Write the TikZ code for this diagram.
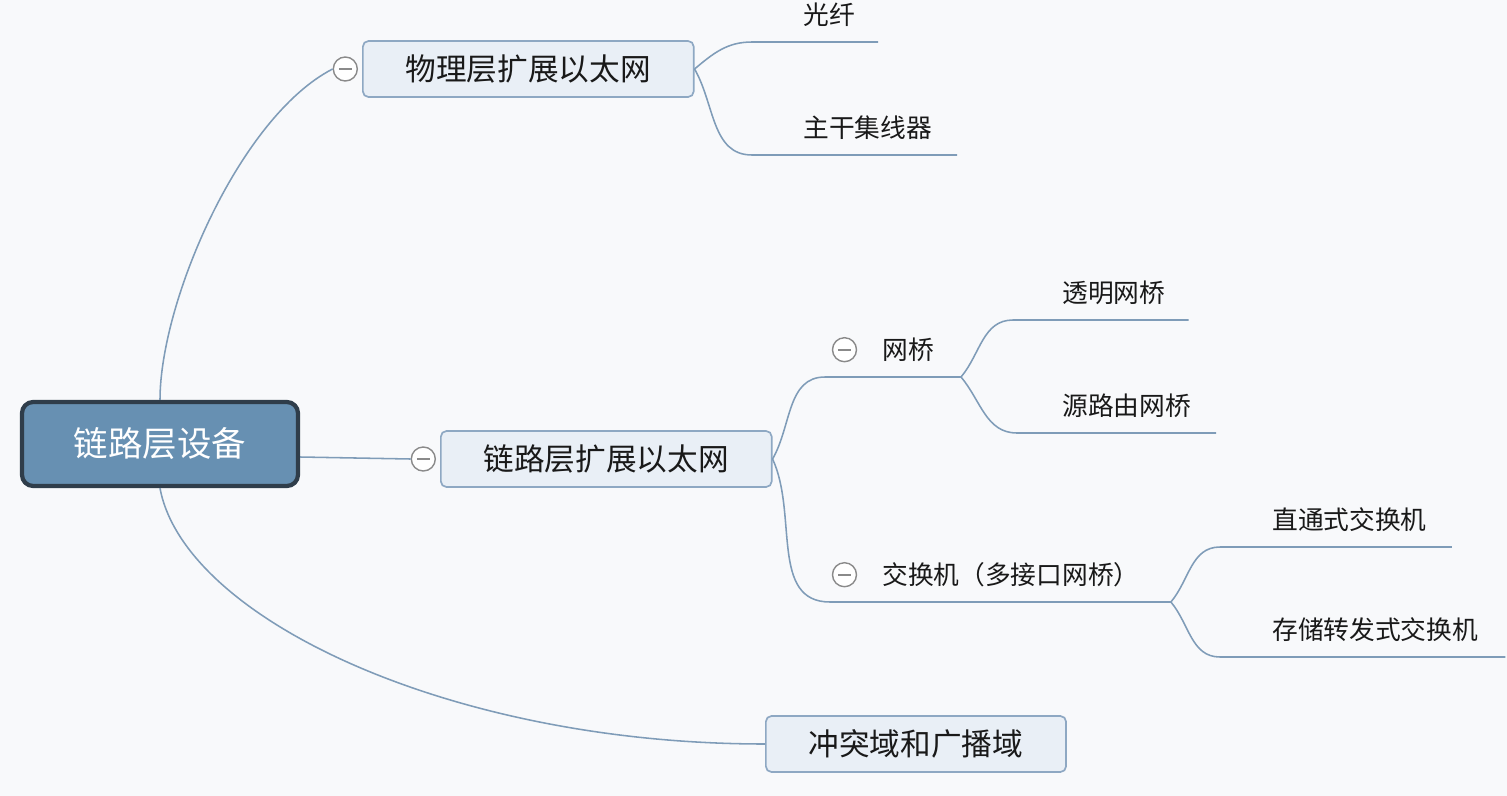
\documentclass[tikz,border=0pt]{standalone}
\usepackage{fontspec}
\setmainfont{Noto Sans CJK SC}
\usepackage{tikz}
\usetikzlibrary{positioning, calc}
\definecolor{linecol}{HTML}{7F9CB8}
\definecolor{boxfill}{HTML}{E9EFF6}
\definecolor{boxline}{HTML}{8EA8C3}
\definecolor{rootfill}{HTML}{6790B2}
\definecolor{rootline}{HTML}{2F3D4A}
\definecolor{bgcol}{HTML}{F8F9FB}
\definecolor{knob}{HTML}{8A8A8A}
\tikzset{
  rootbox/.style={
    rectangle, rounded corners=8pt,
    draw=rootline, line width=3pt,
    fill=rootfill, text=white,
    minimum width=6.9cm, minimum height=2.1cm,
    font=\fontsize{24.5pt}{28pt}\selectfont
  },
  topic/.style={
    rectangle, rounded corners=4pt,
    draw=boxline, line width=1.2pt,
    fill=boxfill, text=black!90,
    inner xsep=1.07cm, minimum height=1.4cm,
    font=\fontsize{21.8pt}{26pt}\selectfont,
    anchor=west
  },
  leaf/.style={
    inner xsep=0pt, minimum height=1.35cm,
    anchor=south west, text=black!90,
    font=\fontsize{18.3pt}{22pt}\selectfont
  },
  collapse/.style={
    circle, draw=knob, line width=1pt, fill=white,
    minimum size=0.6cm, inner sep=0pt,
    path picture={\draw[knob, line width=1.5pt]
      ([xshift=-0.16cm]path picture bounding box.center) --
      ([xshift=0.16cm]path picture bounding box.center);}
  },
  link/.style={
    draw=linecol, line width=1.1pt
  }
}
\begin{document}
\begin{tikzpicture}[x=0.025cm, y=0.025cm]

\useasboundingbox (0,0) rectangle (1507,-796);
\fill[bgcol] (0,0) rectangle (1507,-796);

%------------------------------------------------------
% NODES
%------------------------------------------------------

% central topic
\node[rootbox] (root) at (160,-444) {链路层设备};

% main topics
\node[topic] (phy) at (362,-69) {物理层扩展以太网};
\node[collapse, left=0.1cm of phy] (phyc) {};
\node[topic] (dll) at (440,-459) {链路层扩展以太网};
\node[collapse, left=0.1cm of dll] (dllc) {};
\node[topic] (dom) at (765,-744) {冲突域和广播域};

% subtopics of phy
\node[leaf] (fiber) at (803,-42) {光纤};
\node[leaf] (hub) at (803,-155) {主干集线器};

% subtopics of dll
\node[leaf] (bridge) at (882,-377) {网桥};
\node[collapse, left=0.62cm of bridge] (bridgec) {};
\node[leaf] (switch) at (882,-602) {交换机（多接口网桥）};
\node[collapse, left=0.62cm of switch] (switchc) {};

% leaves
\node[leaf] (tbridge) at (1062,-320) {透明网桥};
\node[leaf] (srbridge) at (1062,-433) {源路由网桥};
\node[leaf] (ctswitch) at (1272,-547) {直通式交换机};
\node[leaf] (sfswitch) at (1272,-657) {存储转发式交换机};

%------------------------------------------------------
% EDGES
%------------------------------------------------------

\draw[link] (root.north) .. controls +(0,98) and +(-93,-48) .. (phyc.west);
\draw[link] ($(root.east)+(0,-13)$) -- (dllc.west);
\draw[link] (root.south) .. controls +(24,-130) and +(-315,0) .. (dom.west);

\draw[link] (phy.east) to[out=40,in=180] ($(fiber.south west)+(-51,0)$) -- ($(fiber.south east)+(23,0)$);
\draw[link] (phy.east) to[out=-60,in=180] ($(hub.south west)+(-51,0)$) -- ($(hub.south east)+(25,0)$);

\draw[link] (dll.east) to[out=60,in=180] ($(bridge.south west)+(-57,0)$) -- ($(bridge.south east)+(27,0)$) coordinate (bridgeend);
\draw[link] (dll.east) to[out=-65,in=180] ($(switch.south west)+(-52,0)$) -- ($(switch.south east)+(31,0)$) coordinate (switchend);

\draw[link] (bridgeend) to[out=50,in=180] ($(tbridge.south west)+(-49,0)$) -- ($(tbridge.south east)+(23,0)$);
\draw[link] (bridgeend) to[out=-50,in=180] ($(srbridge.south west)+(-45,0)$) -- ($(srbridge.south east)+(25,0)$);
\draw[link] (switchend) to[out=50,in=180] ($(ctswitch.south west)+(-52,0)$) -- ($(ctswitch.south east)+(25,0)$);
\draw[link] (switchend) to[out=-50,in=180] ($(sfswitch.south west)+(-52,0)$) -- ($(sfswitch.south east)+(27,0)$);

\end{tikzpicture}
\end{document}
